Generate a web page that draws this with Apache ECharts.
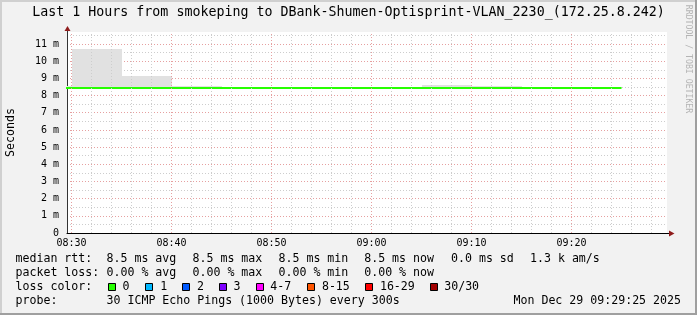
<!DOCTYPE html>
<html><head><meta charset="utf-8">
<script src="https://cdn.jsdelivr.net/npm/echarts@6/dist/echarts.min.js"></script>
<style>html,body{margin:0;padding:0;background:#f2f2f2}#c{width:697px;height:315px}</style>
</head><body><div id="c"></div>
<script>
// ---- data (x in minutes relative to 08:30) ----
const xMin = -0.45, xMax = 59.55;
const xMajorTicks = [0, 10, 20, 30, 40, 50];
const xTickLabels = ['08:30', '08:40', '08:50', '09:00', '09:10', '09:20'];
const xMinorTicks = [2,4,6,8,12,14,16,18,22,24,26,28,32,34,36,38,42,44,46,48,52,54,56,58];
const yMax = 11.7;
const stepMinutes = 5;
const smokeStart = [-5, 0, 5, 10, 15, 20, 25, 30, 35, 40, 45, 50];
const smokeLow   = [8.38, 8.38, 8.38, 8.38, 8.42, 8.42, 8.36, 8.36, 8.36, 8.36, 8.42, 8.42];
const smokeHigh  = [8.56, 10.71, 9.14, 8.56, 8.47, 8.47, 8.50, 8.50, 8.61, 8.56, 8.47, 8.47];
const medianTimes  = [-5, 0, 5, 10, 15, 20, 25, 30, 35, 40, 45, 50, 55];
const medianValues = [8.44, 8.44, 8.44, 8.44, 8.44, 8.44, 8.44, 8.44, 8.44, 8.44, 8.44, 8.44, 8.44];
const titleText = 'Last 1 Hours from smokeping to DBank-Shumen-Optisprint-VLAN_2230_(172.25.8.242)';
const rttLabel = 'median rtt:';
const rttItems = ['8.5 ms avg', '8.5 ms max', '8.5 ms min', '8.5 ms now', '0.0 ms sd', '1.3 k am/s'];
const lossLabel = 'packet loss:';
const lossItems = ['0.00 % avg', '0.00 % max', '0.00 % min', '0.00 % now'];
const lossColorLabel = 'loss color:';
const lossLabels = ['0', '1', '2', '3', '4-7', '8-15', '16-29', '30/30'];
const lossColors = ['#26ff00', '#00b8ff', '#0059ff', '#7e00ff', '#ff00ff', '#ff5500', '#ff0000', '#a10000'];
const probeLabel = 'probe:';
const probeText = '30 ICMP Echo Pings (1000 Bytes) every 300s';
const dateText = 'Mon Dec 29 09:29:25 2025';

// ---- layout ----
const FONT = 'DejaVu Sans Mono';
const rttX = [106.5, 192.5, 278.5, 364.2, 451, 530];
const lossBoxX = [108, 145, 182, 219, 256, 307, 365, 430];
const lossTextX = [122.5, 160.2, 196.9, 233.5, 270.2, 321.9, 379.9, 444.2];
const rowY = [259.3, 273.3, 287.3, 301.3];
const LFS = 11.6;

const chart = echarts.init(document.getElementById('c'), null, {renderer: 'canvas'});

function txt(text, x, y, opt) {
  return Object.assign({type: 'text', x: x, y: y, silent: true, z: 100,
    style: Object.assign({text: text, fill: '#000', font: LFS + 'px "' + FONT + '"', align: 'left', verticalAlign: 'middle'}, opt || {})});
}
const graphics = [];
// frame
graphics.push({type: 'rect', shape: {x: 0, y: 0, width: 697, height: 2}, style: {fill: '#d0d0d0'}, silent: true});
graphics.push({type: 'rect', shape: {x: 0, y: 0, width: 2, height: 315}, style: {fill: '#d0d0d0'}, silent: true});
graphics.push({type: 'rect', shape: {x: 695, y: 0, width: 2, height: 315}, style: {fill: '#9f9f9f'}, silent: true});
graphics.push({type: 'rect', shape: {x: 0, y: 313, width: 697, height: 2}, style: {fill: '#9f9f9f'}, silent: true});
// title & side texts
graphics.push(txt(titleText, 348.5, 13, {align: 'center', font: '13.3px "' + FONT + '"'}));
graphics.push({type: 'text', x: 10.5, y: 132.5, rotation: Math.PI / 2, silent: true,
  style: {text: 'Seconds', x: 0, y: 0, align: 'center', verticalAlign: 'middle', fill: '#000', font: LFS + 'px "' + FONT + '"'}});
graphics.push({type: 'text', x: 688, y: 59, rotation: -Math.PI / 2, silent: true,
  style: {text: 'RRDTOOL / TOBI OETIKER', x: 0, y: 0, align: 'center', verticalAlign: 'middle', fill: '#b4b4b4', font: '8.2px "' + FONT + '"'}});
// axis extensions and arrows
graphics.push({type: 'line', shape: {x1: 67.5, y1: 32, x2: 67.5, y2: 29}, style: {stroke: '#333', lineWidth: 1}, silent: true});
graphics.push({type: 'polygon', shape: {points: [[67.5, 26], [64.5, 31], [70.5, 31]]}, style: {fill: '#8f1c1c'}, silent: true});
graphics.push({type: 'line', shape: {x1: 667, y1: 233.5, x2: 670, y2: 233.5}, style: {stroke: '#000', lineWidth: 1}, silent: true});
graphics.push({type: 'polygon', shape: {points: [[674.5, 233.5], [669, 230.5], [669, 236.5]]}, style: {fill: '#8f1c1c'}, silent: true});
// legend rows
graphics.push(txt(rttLabel, 15.5, rowY[0]));
rttItems.forEach((s, i) => graphics.push(txt(s, rttX[i], rowY[0])));
graphics.push(txt(lossLabel, 15.5, rowY[1]));
lossItems.forEach((s, i) => graphics.push(txt(s, rttX[i], rowY[1])));
graphics.push(txt(lossColorLabel, 15.5, rowY[2]));
lossLabels.forEach((s, i) => {
  graphics.push({type: 'rect', shape: {x: lossBoxX[i] + 0.5, y: 283.5, width: 7, height: 7},
    style: {fill: lossColors[i], stroke: '#000', lineWidth: 1}, silent: true, z: 100});
  graphics.push(txt(s, lossTextX[i], rowY[2]));
});
graphics.push(txt(probeLabel, 15.5, rowY[3]));
graphics.push(txt(probeText, rttX[0], rowY[3]));
graphics.push(txt(dateText, 681, rowY[3], {align: 'right'}));

const majorGridColor = '#e6a0a0';
const minorGridColor = '#cdcdcd';

const option = {
  animation: false,
  backgroundColor: '#f2f2f2',
  grid: {left: 67, top: 32, width: 600, height: 201, show: true, backgroundColor: '#ffffff', borderWidth: 0, containLabel: false},
  xAxis: {
    type: 'value', min: xMin, max: xMax,
    axisLine: {show: true, onZero: false, lineStyle: {color: '#000', width: 1}},
    axisTick: {show: false},
    splitLine: {show: false},
    axisLabel: {
      customValues: xMajorTicks,
      formatter: v => { const i = xMajorTicks.indexOf(Math.round(v)); return i >= 0 ? xTickLabels[i] : ''; },
      fontFamily: FONT, fontSize: 10, color: '#000', margin: 5
    }
  },
  yAxis: {
    type: 'value', min: 0, max: yMax, interval: 0.5,
    axisLine: {show: true, onZero: false, lineStyle: {color: '#333', width: 1}},
    axisTick: {show: false},
    splitLine: {show: true, showMaxLine: false, lineStyle: {color: [majorGridColor, minorGridColor], type: [1, 2], width: 1}},
    axisLabel: {
      formatter: v => (Math.abs(v - Math.round(v)) < 1e-6 ? (v === 0 ? '0' : Math.round(v) + ' m') : ''),
      fontFamily: FONT, fontSize: 10, color: '#000', margin: 8, showMaxLabel: false
    }
  },
  graphic: graphics,
  series: [
    {
      type: 'custom', z: 1, silent: true,
      data: smokeStart.map((t, i) => [t, smokeLow[i], smokeHigh[i]]),
      encode: {x: 0, y: [1, 2]},
      renderItem: (params, api) => {
        const t = api.value(0), lo = api.value(1), hi = api.value(2);
        const p1 = api.coord([t, hi]), p2 = api.coord([t + stepMinutes, lo]);
        const x1 = Math.round(p1[0]), x2 = Math.round(p2[0]);
        const y1 = Math.round(p1[1]), y2 = Math.round(p2[1]);
        const cs = params.coordSys;
        const r = echarts.graphic.clipRectByRect({x: x1, y: y1, width: x2 - x1, height: Math.max(1, y2 - y1)},
          {x: cs.x, y: cs.y, width: cs.width, height: cs.height});
        return r ? {type: 'rect', shape: r, style: {fill: '#e1e1e1'}} : null;
      }
    },
    {
      type: 'line', z: 2, silent: true, data: [],
      markLine: {silent: true, symbol: 'none', animation: false, label: {show: false},
        lineStyle: {color: minorGridColor, type: [1, 2], width: 1},
        data: xMinorTicks.map(v => ({xAxis: v}))}
    },
    {
      type: 'line', z: 2, silent: true, data: [],
      markLine: {silent: true, symbol: 'none', animation: false, label: {show: false},
        lineStyle: {color: majorGridColor, type: [1, 2], width: 1},
        data: xMajorTicks.map(v => ({xAxis: v}))}
    },
    {
      type: 'line', z: 3, silent: true, step: 'end', showSymbol: false,
      data: medianTimes.map((t, i) => [t, medianValues[i]]),
      lineStyle: {color: lossColors[0], width: 2}
    }
  ]
};
chart.setOption(option);
</script></body></html>
